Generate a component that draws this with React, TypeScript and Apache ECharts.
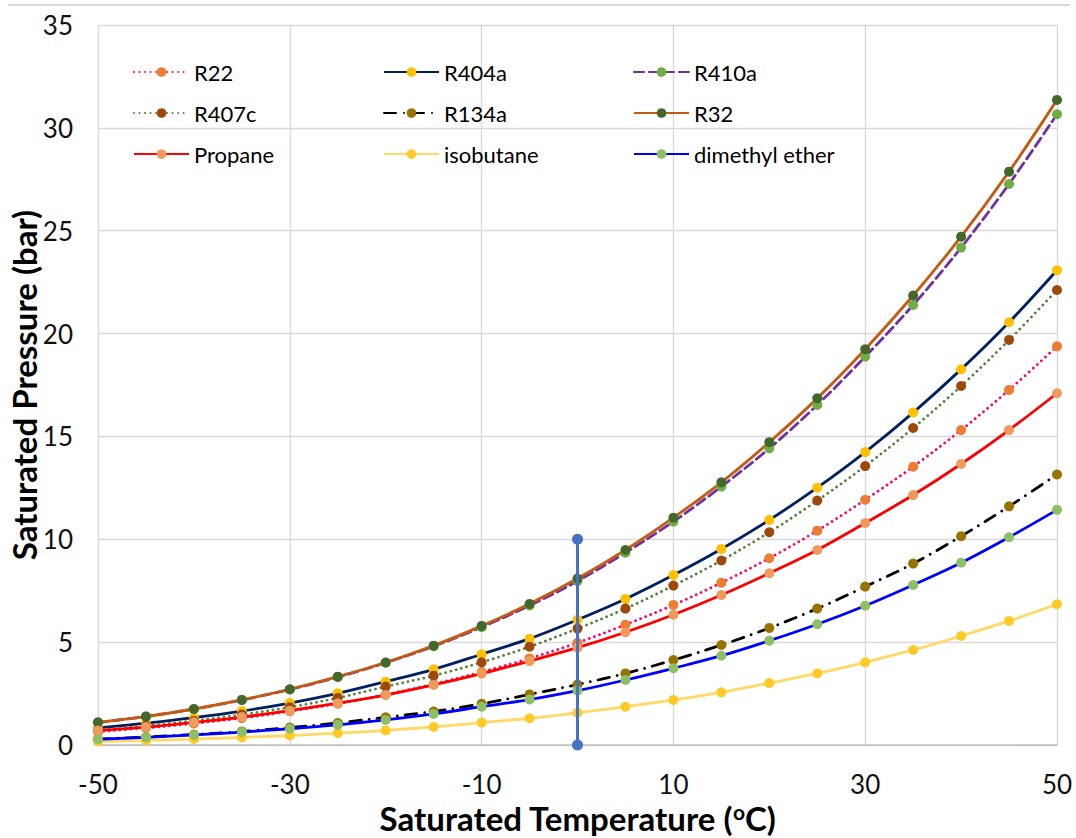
import React, { useEffect, useRef } from "react";
import * as echarts from "echarts";

// Saturated temperature (°C)
const temps = [-50, -45, -40, -35, -30, -25, -20, -15, -10, -5, 0, 5, 10, 15, 20, 25, 30, 35, 40, 45, 50];

// Saturated pressure (bar)
const r22 = [0.65, 0.83, 1.05, 1.31, 1.64, 2.01, 2.45, 2.96, 3.55, 4.21, 4.97, 5.85, 6.81, 7.89, 9.08, 10.42, 11.92, 13.53, 15.31, 17.26, 19.38];
const r404a = [0.83, 1.06, 1.33, 1.65, 2.04, 2.51, 3.08, 3.68, 4.41, 5.17, 6.09, 7.10, 8.26, 9.53, 10.94, 12.51, 14.24, 16.16, 18.26, 20.55, 23.08];
const r410a = [1.09, 1.39, 1.75, 2.19, 2.70, 3.30, 4.00, 4.80, 5.73, 6.78, 7.97, 9.35, 10.86, 12.56, 14.42, 16.53, 18.88, 21.39, 24.18, 27.27, 30.66];
const r407c = [0.72, 0.93, 1.18, 1.48, 1.84, 2.29, 2.84, 3.37, 4.02, 4.78, 5.66, 6.63, 7.75, 8.97, 10.34, 11.88, 13.56, 15.41, 17.45, 19.69, 22.12];
const r134a = [0.29, 0.39, 0.51, 0.66, 0.85, 1.07, 1.35, 1.63, 2.00, 2.46, 2.94, 3.48, 4.13, 4.86, 5.69, 6.63, 7.70, 8.82, 10.15, 11.60, 13.15];
const r32 = [1.10, 1.38, 1.75, 2.19, 2.71, 3.32, 4.01, 4.83, 5.79, 6.86, 8.09, 9.48, 11.05, 12.77, 14.72, 16.85, 19.24, 21.85, 24.71, 27.87, 31.36];
const propane = [0.70, 0.87, 1.10, 1.36, 1.67, 2.03, 2.43, 2.92, 3.47, 4.08, 4.73, 5.48, 6.33, 7.29, 8.35, 9.48, 10.79, 12.15, 13.66, 15.31, 17.10];
const isobutane = [0.17, 0.22, 0.29, 0.37, 0.46, 0.58, 0.71, 0.88, 1.09, 1.30, 1.57, 1.86, 2.19, 2.56, 3.01, 3.48, 4.02, 4.62, 5.30, 6.03, 6.84];
const dme = [0.28, 0.37, 0.49, 0.63, 0.79, 0.98, 1.22, 1.51, 1.86, 2.21, 2.64, 3.16, 3.73, 4.34, 5.07, 5.87, 6.77, 7.78, 8.86, 10.10, 11.43];

// Reference marker line at 0 °C
const refTemps = [0, 0];
const refPressures = [0, 10];

const legendCol1 = ["R22", "R407c", "Propane"];
const legendCol2 = ["R404a", "R134a", "isobutane"];
const legendCol3 = ["R410a", "R32", "dimethyl ether"];

const FONT = "Lato, 'Open Sans', sans-serif";

type Spec = {
  name: string;
  values: number[];
  line: string;
  marker: string;
  dash: any;
};

const DOT = [0.01, 5.5];

const specs: Spec[] = [
  { name: "R22", values: r22, line: "#FF0066", marker: "#ED7D31", dash: DOT },
  { name: "R404a", values: r404a, line: "#002060", marker: "#FFC000", dash: "solid" },
  { name: "R410a", values: r410a, line: "#7030A0", marker: "#70AD47", dash: [10, 5] },
  { name: "R407c", values: r407c, line: "#548235", marker: "#9E480E", dash: DOT },
  { name: "R134a", values: r134a, line: "#000000", marker: "#997300", dash: [12, 8, 0.01, 8] },
  { name: "R32", values: r32, line: "#C55A11", marker: "#43682B", dash: "solid" },
  { name: "Propane", values: propane, line: "#FF0000", marker: "#F19A5E", dash: "solid" },
  { name: "isobutane", values: isobutane, line: "#FFD966", marker: "#FFCA28", dash: "solid" },
  { name: "dimethyl ether", values: dme, line: "#0000FF", marker: "#8DBF63", dash: "solid" },
];

export default function App() {
  const ref = useRef<HTMLDivElement>(null);

  useEffect(() => {
    if (!ref.current) return;
    const chart = echarts.init(ref.current, undefined, { renderer: "svg" });

    const series: any[] = specs.map((s) => ({
      name: s.name,
      type: "line",
      data: temps.map((t, i) => [t, s.values[i]]),
      smooth: 0.35,
      symbol: "circle",
      symbolSize: 10,
      lineStyle: { color: s.line, width: 2.8, type: s.dash, cap: s.dash === "solid" ? "butt" : "round" },
      itemStyle: { color: s.marker, borderWidth: 0 },
      emphasis: { disabled: true },
    }));

    series.push({
      name: "ref",
      type: "line",
      data: refTemps.map((t, i) => [t, refPressures[i]]),
      symbol: "circle",
      symbolSize: 11,
      lineStyle: { color: "#4472C4", width: 3 },
      itemStyle: { color: "#4472C4", borderWidth: 0 },
      z: 5,
      emphasis: { disabled: true },
    });

    const legendBase = {
      orient: "vertical",
      top: 61,
      padding: 0,
      itemWidth: 55,
      itemHeight: 12,
      itemGap: 19,
      selectedMode: false,
      textStyle: { fontFamily: FONT, fontSize: 22, color: "#000", lineHeight: 20 },
    };

    const option: any = {
      animation: false,
      backgroundColor: "#fff",
      grid: { left: 98, right: 19, top: 25, bottom: 93, containLabel: false, outerBoundsMode: "none" },
      legend: [
        { ...legendBase, left: 133, data: legendCol1 },
        { ...legendBase, left: 383, data: legendCol2 },
        { ...legendBase, left: 633, data: legendCol3 },
      ],
      xAxis: {
        type: "value",
        min: -50,
        max: 50,
        interval: 20,
        axisLine: { show: true, lineStyle: { color: "#BFBFBF", width: 1.5 } },
        axisTick: { show: false },
        splitLine: { show: true, lineStyle: { color: "#D9D9D9", width: 1.3 } },
        axisLabel: { fontFamily: FONT, fontSize: 26, color: "#111", margin: 25, lineHeight: 28 },
        name: "Saturated Temperature ({sup|o}C)",
        nameLocation: "middle",
        nameGap: 56,
        nameMoveOverlap: false,
        nameTextStyle: {
          fontFamily: FONT,
          fontSize: 33,
          fontWeight: "bold",
          color: "#000",
          lineHeight: 34,
          rich: {
            sup: { fontFamily: FONT, fontSize: 21, fontWeight: "bold", color: "#000", verticalAlign: "top", lineHeight: 34, padding: [0, 0, 12, 0] },
          },
        },
      },
      yAxis: {
        type: "value",
        min: 0,
        max: 35,
        interval: 5,
        axisLine: { show: false },
        axisTick: { show: false },
        splitLine: { show: true, lineStyle: { color: "#D9D9D9", width: 1.3 } },
        axisLabel: { fontFamily: FONT, fontSize: 26, color: "#111", margin: 25 },
        name: "Saturated Pressure (bar)",
        nameLocation: "middle",
        nameGap: 58,
        nameMoveOverlap: false,
        nameTextStyle: { fontFamily: FONT, fontSize: 33, fontWeight: "bold", color: "#000" },
      },
      graphic: [
        {
          type: "line",
          shape: { x1: 8, y1: 5, x2: 1070, y2: 5 },
          style: { stroke: "#D9D9D9", lineWidth: 2 },
          silent: true,
        },
      ],
      series,
    };

    chart.setOption(option);
    return () => chart.dispose();
  }, []);

  return (
    <div
      ref={ref}
      style={{ position: "fixed", left: 0, top: 0, width: 1076, height: 838, background: "#fff" }}
    />
  );
}
